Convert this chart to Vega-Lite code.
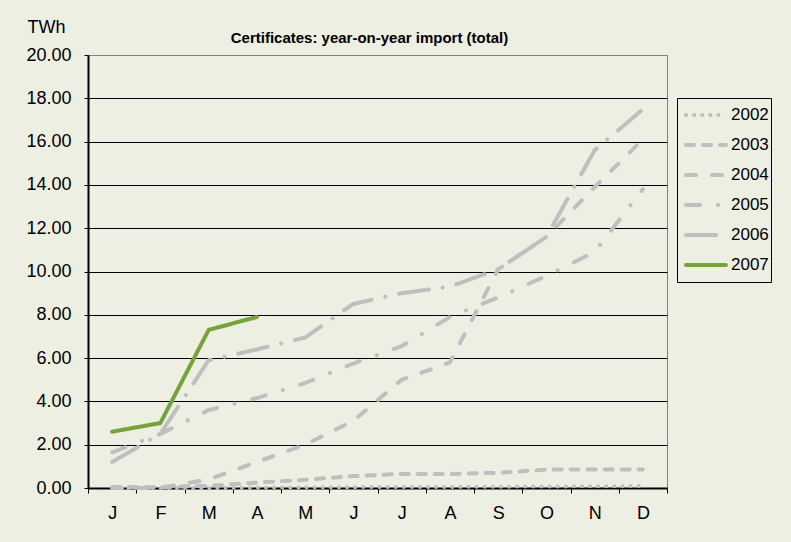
{
  "$schema": "https://vega.github.io/schema/vega-lite/v6.json",
  "width": 579,
  "height": 433,
  "autosize": "none",
  "padding": {"left": 88, "top": 55, "right": 124, "bottom": 54},
  "background": "#ECEFE1",
  "title": {"text": "Certificates: year-on-year import (total)", "font": "Liberation Sans", "fontSize": 15, "fontWeight": "bold", "color": "black", "anchor": "middle", "offset": -28, "dx": -8},
  "config": {
    "view": {"stroke": "#808080", "strokeWidth": 1, "fill": "#ECEFE1"},
    "font": "Liberation Sans"
  },
  "data": {"values": [
    {"month": "Jan", "year": "2002", "value": 0},
    {"month": "Feb", "year": "2002", "value": 0},
    {"month": "Mar", "year": "2002", "value": 0},
    {"month": "Apr", "year": "2002", "value": 0.02},
    {"month": "May", "year": "2002", "value": 0.03},
    {"month": "Jun", "year": "2002", "value": 0.04},
    {"month": "Jul", "year": "2002", "value": 0.05},
    {"month": "Aug", "year": "2002", "value": 0.05},
    {"month": "Sep", "year": "2002", "value": 0.06},
    {"month": "Oct", "year": "2002", "value": 0.07},
    {"month": "Nov", "year": "2002", "value": 0.08},
    {"month": "Dec", "year": "2002", "value": 0.09},
    {"month": "Jan", "year": "2003", "value": 0.05},
    {"month": "Feb", "year": "2003", "value": 0.05},
    {"month": "Mar", "year": "2003", "value": 0.1},
    {"month": "Apr", "year": "2003", "value": 0.25},
    {"month": "May", "year": "2003", "value": 0.38},
    {"month": "Jun", "year": "2003", "value": 0.55},
    {"month": "Jul", "year": "2003", "value": 0.65},
    {"month": "Aug", "year": "2003", "value": 0.65},
    {"month": "Sep", "year": "2003", "value": 0.7},
    {"month": "Oct", "year": "2003", "value": 0.85},
    {"month": "Nov", "year": "2003", "value": 0.85},
    {"month": "Dec", "year": "2003", "value": 0.85},
    {"month": "Jan", "year": "2004", "value": 0},
    {"month": "Feb", "year": "2004", "value": 0},
    {"month": "Mar", "year": "2004", "value": 0.4},
    {"month": "Apr", "year": "2004", "value": 1.2},
    {"month": "May", "year": "2004", "value": 2.0},
    {"month": "Jun", "year": "2004", "value": 3.1},
    {"month": "Jul", "year": "2004", "value": 5.0},
    {"month": "Aug", "year": "2004", "value": 5.8},
    {"month": "Sep", "year": "2004", "value": 10.1},
    {"month": "Oct", "year": "2004", "value": 11.6},
    {"month": "Nov", "year": "2004", "value": 13.9},
    {"month": "Dec", "year": "2004", "value": 16.1},
    {"month": "Jan", "year": "2005", "value": 1.65},
    {"month": "Feb", "year": "2005", "value": 2.5},
    {"month": "Mar", "year": "2005", "value": 3.6},
    {"month": "Apr", "year": "2005", "value": 4.15},
    {"month": "May", "year": "2005", "value": 4.85},
    {"month": "Jun", "year": "2005", "value": 5.75},
    {"month": "Jul", "year": "2005", "value": 6.55},
    {"month": "Aug", "year": "2005", "value": 7.9},
    {"month": "Sep", "year": "2005", "value": 8.8},
    {"month": "Oct", "year": "2005", "value": 9.8},
    {"month": "Nov", "year": "2005", "value": 10.9},
    {"month": "Dec", "year": "2005", "value": 13.8},
    {"month": "Jan", "year": "2006", "value": 1.2},
    {"month": "Feb", "year": "2006", "value": 2.5},
    {"month": "Mar", "year": "2006", "value": 5.9},
    {"month": "Apr", "year": "2006", "value": 6.4},
    {"month": "May", "year": "2006", "value": 6.95},
    {"month": "Jun", "year": "2006", "value": 8.5},
    {"month": "Jul", "year": "2006", "value": 9.0},
    {"month": "Aug", "year": "2006", "value": 9.3},
    {"month": "Sep", "year": "2006", "value": 10.1},
    {"month": "Oct", "year": "2006", "value": 11.6},
    {"month": "Nov", "year": "2006", "value": 15.6},
    {"month": "Dec", "year": "2006", "value": 17.5},
    {"month": "Jan", "year": "2007", "value": 2.6},
    {"month": "Feb", "year": "2007", "value": 3.0},
    {"month": "Mar", "year": "2007", "value": 7.3},
    {"month": "Apr", "year": "2007", "value": 7.9}
  ]},
  "mark": {"type": "line", "strokeWidth": 4, "strokeCap": "round", "strokeJoin": "round"},
  "encoding": {
    "x": {
      "field": "month", "type": "ordinal",
      "sort": ["Jan","Feb","Mar","Apr","May","Jun","Jul","Aug","Sep","Oct","Nov","Dec"],
      "scale": {"type": "band", "paddingInner": 0, "paddingOuter": 0},
      "bandPosition": 0.5,
      "axis": {
        "title": null, "labelAngle": 0, "labelExpr": "substring(datum.label, 0, 1)",
        "tickBand": "extent", "tickSize": 5, "tickColor": "black", "tickWidth": 1,
        "domainColor": "black", "domainWidth": 2,
        "labelFont": "Liberation Sans", "labelFontSize": 18, "labelColor": "black", "labelPadding": 11,
        "grid": false
      }
    },
    "y": {
      "field": "value", "type": "quantitative",
      "scale": {"domain": [0, 20], "nice": false},
      "axis": {
        "values": [0,2,4,6,8,10,12,14,16,18,20], "format": ".2f",
        "title": "TWh", "titleAngle": 0, "titleX": -61, "titleY": -28, "titleAlign": "left", "titleBaseline": "middle",
        "titleFont": "Liberation Sans", "titleFontSize": 18, "titleFontWeight": "normal", "titleColor": "black",
        "labelFont": "Liberation Sans", "labelFontSize": 18, "labelColor": "black", "labelPadding": 13,
        "tickSize": 4, "tickColor": "black", "tickWidth": 1,
        "domainColor": "black", "domainWidth": 2,
        "grid": true, "gridWidth": 1,
        "gridColor": {"condition": {"test": "datum.value === 20", "value": "#808080"}, "value": "black"}
      }
    },
    "color": {
      "field": "year", "type": "nominal",
      "scale": {"domain": ["2002","2003","2004","2005","2006","2007"], "range": ["#BFBFBF","#BFBFBF","#BFBFBF","#BFBFBF","#BFBFBF","#78A23C"]},
      "legend": {
        "title": null, "orient": "none", "legendX": 589, "legendY": 43,
        "strokeColor": "black", "fillColor": "#ECEFE1", "padding": 2,
        "symbolType": "stroke", "symbolSize": 1600, "symbolStrokeWidth": 4, "symbolOffset": 5,
        "labelFont": "Liberation Sans", "labelFontSize": 17, "labelColor": "black", "labelOffset": 3,
        "clipHeight": 30, "rowPadding": 0,
        "encode": {"symbols": {"update": {"strokeCap": {"value": "round"}}}}
      }
    },
    "strokeDash": {
      "field": "year", "type": "nominal",
      "scale": {"domain": ["2002","2003","2004","2005","2006","2007"], "range": [[0.1, 8], [8, 9], [10, 16], [14, 18, 0.1, 18], [30, 14, 0.1, 14], [1, 0]]}
    }
  }
}
